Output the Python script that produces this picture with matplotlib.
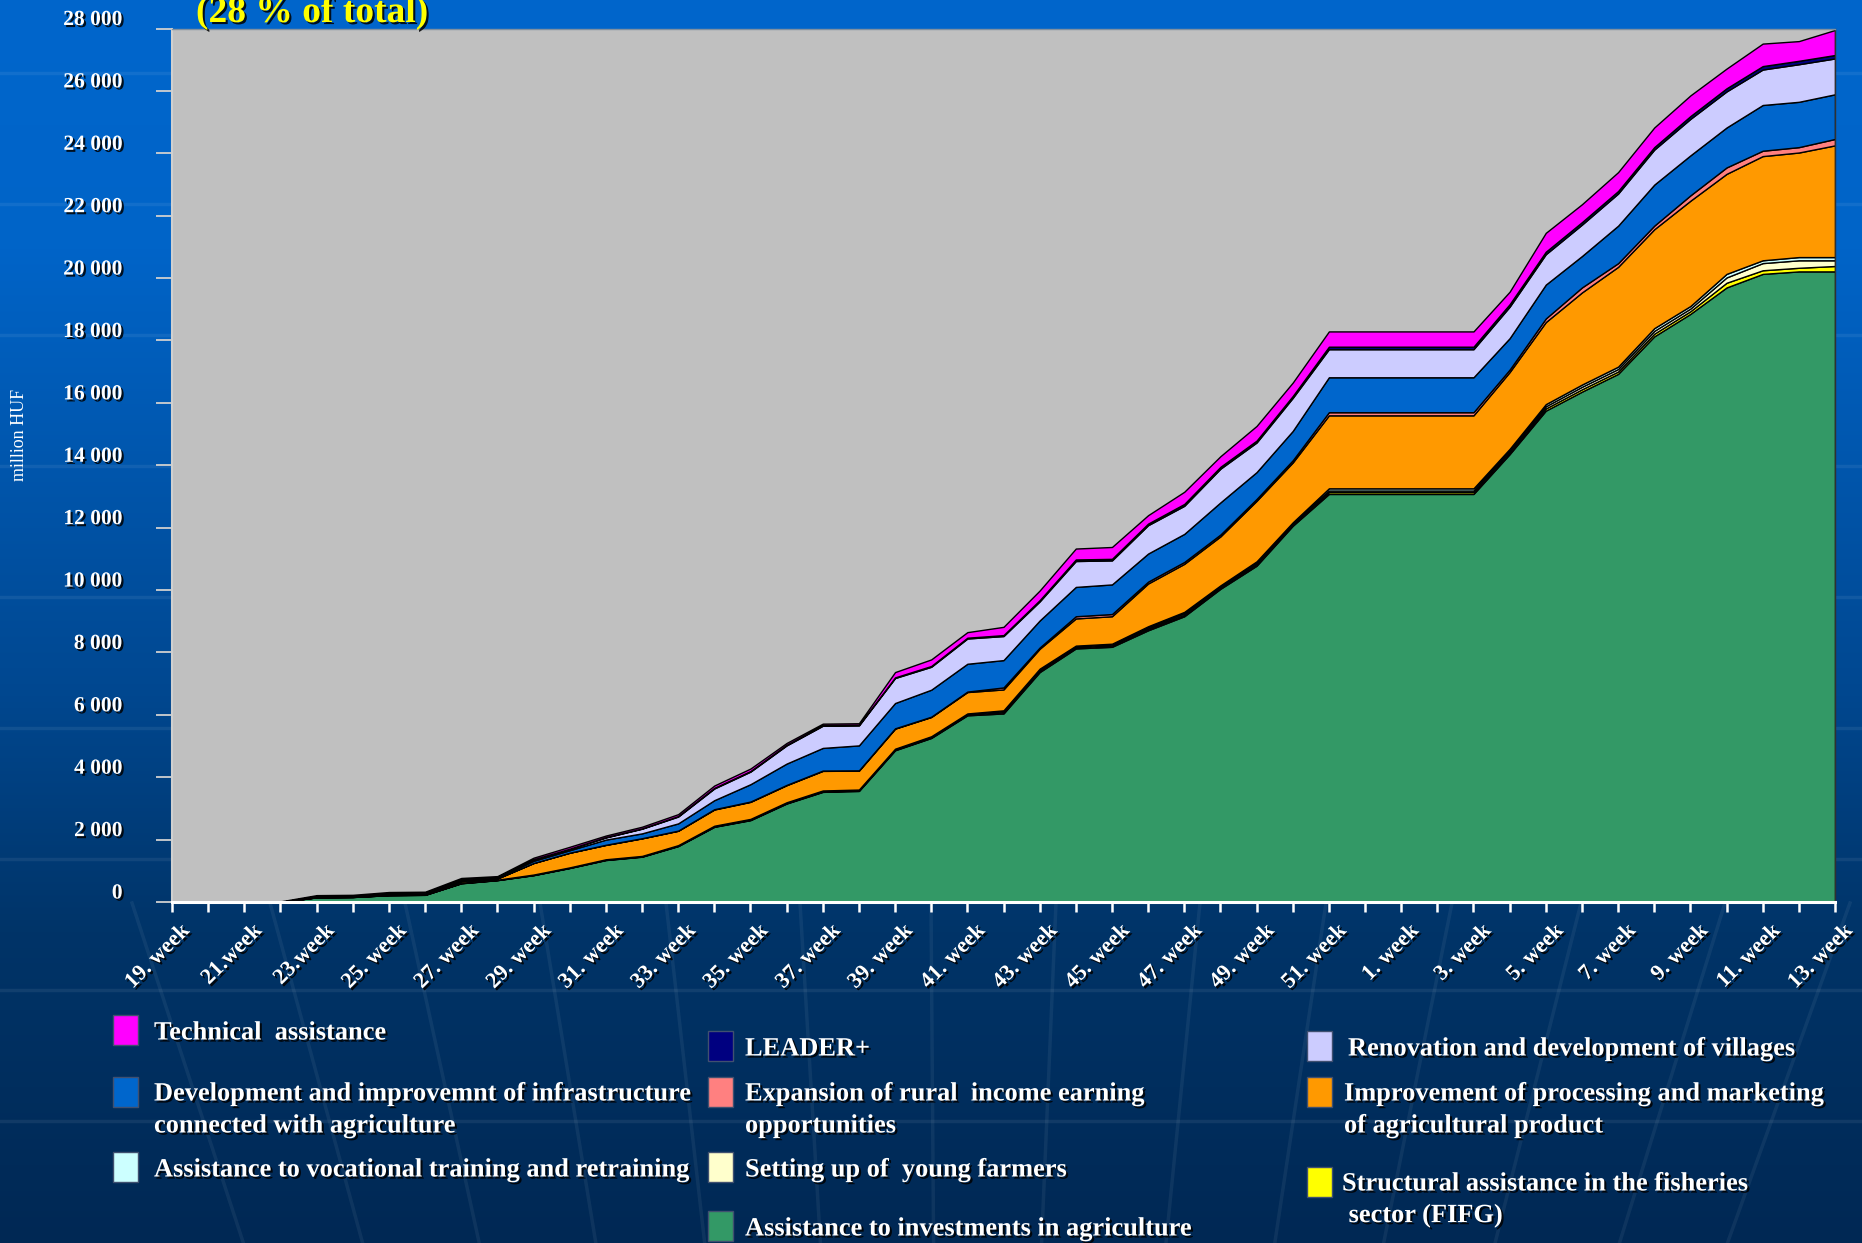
import matplotlib
matplotlib.use('Agg')
import matplotlib.pyplot as plt
import numpy as np
from matplotlib import patheffects as pe
from matplotlib.patches import Rectangle
from matplotlib.transforms import ScaledTranslation

plt.rcParams['font.family'] = ['Liberation Serif', 'DejaVu Serif']

# ---------------- data ----------------
weeks = [19, 20, 21, 22, 23, 24, 25, 26, 27, 28, 29, 30, 31, 32, 33, 34, 35, 36, 37, 38,
         39, 40, 41, 42, 43, 44, 45, 46, 47, 48, 49, 50, 51, 52, 1, 2, 3, 4, 5, 6, 7, 8,
         9, 10, 11, 12, 13]
tick_labels = ["19. week", "21.week", "23.week", "25. week", "27. week", "29. week",
               "31. week", "33. week", "35. week", "37. week", "39. week", "41. week",
               "43. week", "45. week", "47. week", "49. week", "51. week", "1. week",
               "3. week", "5. week", "7. week", "9. week", "11. week", "13. week"]
ytick_values = [0, 2000, 4000, 6000, 8000, 10000, 12000, 14000, 16000, 18000, 20000,
                22000, 24000, 26000, 28000]
ytick_labels = ["0", "2 000", "4 000", "6 000", "8 000", "10 000", "12 000", "14 000",
                "16 000", "18 000", "20 000", "22 000", "24 000", "26 000", "28 000"]

investments = [0, 0, 0, 0, 150, 160, 220, 230, 600, 700, 860, 1090,
               1345, 1452, 1792, 2410, 2624, 3157, 3530, 3560, 4864, 5258, 5984,
               6044, 7370, 8128, 8180, 8710, 9160, 10040, 10780, 12060,
               13080, 13080, 13080, 13080, 13080,
               14357, 15751, 16360, 16930, 18132, 18853, 19700, 20134, 20214, 20214]
fisheries = [0, 0, 0, 0, 0, 0, 0, 0, 5, 5, 5, 5,
             8, 8, 10, 10, 12, 12, 15, 15, 15, 18, 20,
             30, 35, 30, 35, 45, 45, 35, 45, 35,
             60, 60, 60, 60, 60,
             55, 70, 75, 75, 85, 85, 150, 116, 116, 173]
young_farmers = [0, 0, 0, 0, 5, 5, 5, 5, 10, 5, 10, 10,
                 10, 10, 12, 15, 15, 15, 18, 18, 20, 20, 22,
                 35, 40, 30, 35, 45, 50, 40, 50, 40,
                 50, 50, 50, 50, 50,
                 60, 70, 80, 80, 90, 85, 170, 230, 240, 183]
vocational = [0, 0, 0, 0, 0, 0, 5, 5, 5, 5, 5, 5,
              7, 7, 8, 10, 13, 13, 12, 12, 15, 17, 18,
              35, 35, 30, 30, 40, 45, 35, 45, 35,
              70, 70, 70, 70, 70,
              55, 68, 72, 76, 88, 82, 114, 90, 103, 103]
processing = [0, 0, 0, 0, 10, 10, 20, 20, 50, 40, 370, 470,
              460, 563, 461, 520, 546, 547, 628, 605, 643, 617, 686,
              670, 638, 872, 880, 1370, 1540, 1570, 1940, 1920,
              2340, 2340, 2340, 2340, 2340,
              2461, 2631, 2953, 3199, 3170, 3375, 3206, 3340, 3352, 3581]
rural_income = [0, 0, 0, 0, 0, 0, 0, 0, 0, 0, 0, 0,
                5, 5, 5, 10, 10, 10, 10, 10, 10, 10, 15,
                64, 40, 70, 70, 60, 60, 60, 60, 70,
                100, 100, 100, 100, 100,
                80, 115, 160, 117, 115, 172, 206, 172, 172, 205]
infrastructure = [0, 0, 0, 0, 10, 10, 20, 20, 30, 25, 70, 80,
                  165, 155, 232, 289, 556, 683, 726, 800, 811, 865, 892,
                  876, 866, 940, 950, 900, 900, 1030, 860, 940,
                  1120, 1120, 1120, 1120, 1120,
                  1006, 1086, 1007, 1203, 1316, 1282, 1281, 1466, 1453, 1432]
villages = [0, 0, 0, 0, 10, 10, 15, 15, 20, 15, 40, 40,
            70, 150, 220, 376, 404, 583, 711, 640, 802, 735, 810,
            771, 612, 830, 770, 910, 900, 1080, 950, 1060,
            900, 900, 900, 900, 900,
            1009, 974, 1007, 1030, 1121, 1169, 1156, 1137, 1205, 1149]
leader = [0, 0, 0, 0, 5, 5, 5, 5, 10, 5, 10, 10,
          10, 10, 15, 20, 20, 20, 20, 20, 20, 25, 25,
          30, 40, 50, 50, 50, 60, 60, 60, 60,
          80, 80, 80, 80, 80,
          80, 80, 80, 80, 80, 90, 100, 110, 110, 110]
technical = [20, 20, 20, 20, 30, 30, 30, 30, 40, 30, 50, 60,
             50, 53, 61, 74, 78, 58, 47, 50, 170, 211, 178,
             265, 308, 350, 380, 270, 390, 340, 470, 430,
             490, 490, 490, 490, 490,
             400, 605, 573, 606, 630, 663, 632, 721, 631, 802]

series = [investments, fisheries, young_farmers, vocational, processing,
          rural_income, infrastructure, villages, leader, technical]
colors = ['#339966', '#FFFF00', '#FFFFCC', '#CCFFFF', '#FF9900',
          '#FF8080', '#0066CC', '#CCCCFF', '#000080', '#FF00FF']

# ---------------- figure ----------------
W, H = 1862, 1243
fig = plt.figure(figsize=(W / 100, H / 100), dpi=100)

def fx(px):
    return px / W

def fy(py):
    return 1 - py / H

# background gradient
bg = fig.add_axes([0, 0, 1, 1], zorder=-10)
t = np.linspace(0, 1, H)
stops_t = [0.0, 0.2, 0.55, 0.75, 1.0]
stops_c = np.array([(0, 102, 204), (0, 100, 200), (0, 72, 145), (0, 52, 104), (0, 40, 84)]) / 255
grad = np.stack([np.interp(t, stops_t, stops_c[:, k]) for k in range(3)], axis=1)
img = np.repeat(grad[:, None, :], 4, axis=1)
bg.imshow(img, extent=[0, W, H, 0], aspect='auto', interpolation='bilinear')
for yy in [73, 204, 335, 466, 597, 728, 859, 990, 1121]:
    bg.plot([0, W], [yy, yy], color='white', alpha=0.07, lw=2.5)
for x0 in [132, 270, 405, 540, 666, 800, 931, 1056, 1200, 1326, 1452, 1581, 1725, 1850]:
    xs = np.array([x0, 950 + (x0 - 950) * (3400 - 1243) / (3400 - 903)])
    bg.plot(xs, [903, 1243], color='white', alpha=0.06, lw=2.5)
bg.set_xlim(0, W)
bg.set_ylim(H, 0)
bg.axis('off')

# main axes
left, right, top, bottom = 172, 1835, 28.5, 902
ax = fig.add_axes([fx(left), fy(bottom), fx(right - left), (bottom - top) / H])
ax.set_facecolor('#C0C0C0')
x = np.arange(len(weeks))
ax.stackplot(x, *series, colors=colors, edgecolor='black', linewidth=1.0)
ax.set_xlim(0, len(weeks) - 1)
ax.set_ylim(0, 28000)

shadow = [pe.withSimplePatchShadow(offset=(1.5, -1.5), shadow_rgbFace='black', alpha=0.85)]

ax.set_yticks(ytick_values)
ax.set_yticklabels(ytick_labels, fontsize=15.5, fontweight='bold', color='white')
ax.tick_params(axis='y', direction='out', length=11.5, width=1.3, color='#D0D0D0', pad=24)
for lab in ax.get_yticklabels():
    lab.set_path_effects(shadow)
    lab.set_transform(lab.get_transform() + ScaledTranslation(0, 0.11, fig.dpi_scale_trans))

xl = []
for i in range(len(weeks)):
    xl.append(tick_labels[i // 2] if i % 2 == 0 else '')
ax.set_xticks(x)
ax.set_xticklabels(xl, fontsize=16, fontweight='bold', color='white', rotation=45,
                   ha='right', va='center', rotation_mode='anchor')
ax.tick_params(axis='x', direction='out', length=7.5, width=1.8, color='white', pad=11)
for lab in ax.get_xticklabels():
    lab.set_path_effects(shadow)
    lab.set_transform(lab.get_transform() + ScaledTranslation(0.15, 0, fig.dpi_scale_trans))

ax.spines['left'].set_color('#D0D0D0')
ax.spines['left'].set_linewidth(1.5)
ax.spines['bottom'].set_color('white')
ax.spines['bottom'].set_linewidth(2.2)
ax.spines['top'].set_color('#8090A0')
ax.spines['top'].set_linewidth(1.0)
ax.spines['right'].set_color('#303030')
ax.spines['right'].set_linewidth(1.0)

# axis title and chart title
fig.text(fx(20), fy(435), 'million HUF', rotation=90, color='white', fontsize=13,
         ha='center', va='center')
fig.text(fx(196), fy(22), '(28 % of total)', color='#FFFF00', fontsize=27,
         fontweight='bold', ha='left', va='baseline', path_effects=shadow)

# ---------------- legend ----------------
legend_entries = [
    (technical, '#FF00FF', 113, 1015, [("Technical  assistance", 154, 1033)]),
    (infrastructure, '#0066CC', 113, 1077, [("Development and improvemnt of infrastructure", 154, 1094),
                                             ("connected with agriculture", 154, 1126)]),
    (vocational, '#CCFFFF', 113, 1152, [("Assistance to vocational training and retraining", 154, 1170)]),
    (leader, '#000080', 708, 1031, [("LEADER+", 745, 1049)]),
    (rural_income, '#FF8080', 708, 1077, [("Expansion of rural  income earning", 745, 1094),
                                           ("opportunities", 745, 1126)]),
    (young_farmers, '#FFFFCC', 708, 1152, [("Setting up of  young farmers", 745, 1170)]),
    (investments, '#339966', 708, 1211, [("Assistance to investments in agriculture", 745, 1229)]),
    (villages, '#CCCCFF', 1307, 1031, [("Renovation and development of villages", 1348, 1049)]),
    (processing, '#FF9900', 1307, 1077, [("Improvement of processing and marketing", 1344, 1094),
                                         ("of agricultural product", 1344, 1126)]),
    (fisheries, '#FFFF00', 1307, 1167, [("Structural assistance in the fisheries", 1342, 1184),
                                        (" sector (FIFG)", 1342, 1216)]),
]
for _, col, mx, my, lines in legend_entries:
    fig.patches.append(Rectangle((fx(mx), fy(my + 30)), fx(25), 30 / H, transform=fig.transFigure,
                                 facecolor=col, edgecolor='#405070', linewidth=1.0))
    for txt, tx, ty in lines:
        fig.text(fx(tx), fy(ty), txt, color='white', fontsize=19, fontweight='bold',
                 ha='left', va='center', path_effects=shadow)

fig.savefig('out.png', dpi=100)
